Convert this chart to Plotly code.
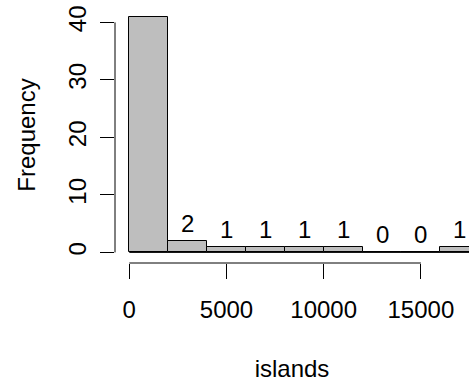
import plotly.graph_objects as go

breaks = [0, 2000, 4000, 6000, 8000, 10000, 12000, 14000, 16000, 18000]
counts = [41, 2, 1, 1, 1, 1, 0, 0, 1]
x_ticks = [0, 5000, 10000, 15000]
y_ticks = [0, 10, 20, 30, 40]
x_title = "islands"
y_title = "Frequency"

FONT = "Liberation Sans Narrow, Liberation Sans, Arial, sans-serif"
FS = 24

mids = [(a + b) / 2 for a, b in zip(breaks[:-1], breaks[1:])]
widths = [b - a for a, b in zip(breaks[:-1], breaks[1:])]

fig = go.Figure()
fig.add_trace(go.Bar(
    x=mids, y=counts, width=widths,
    marker=dict(color="#BEBEBE", line=dict(color="black", width=1)),
    hoverinfo="x+y",
))

# count labels above bars (the tallest one falls outside the figure in the original)
for m, c in zip(mids, counts):
    if c >= 41:
        continue
    fig.add_annotation(x=m, y=c, text=str(c), showarrow=False,
                       xref="x", yref="y", yanchor="bottom", yshift=2,
                       font=dict(family=FONT, size=FS, color="black"))

# baseline under the histogram
fig.add_shape(type="line", xref="x", yref="y", x0=breaks[0], x1=breaks[-1], y0=0, y1=0,
              line=dict(color="black", width=1))
# R-style axis lines spanning tick range
fig.add_shape(type="line", xref="x", yref="paper", x0=x_ticks[0], x1=x_ticks[-1], y0=0, y1=0,
              line=dict(color="black", width=1))
fig.add_shape(type="line", xref="paper", yref="y", x0=0, x1=0, y0=y_ticks[0], y1=y_ticks[-1],
              line=dict(color="black", width=1))

fig.update_layout(
    width=469, height=382,
    margin=dict(l=115, r=0, t=7, b=119),
    plot_bgcolor="white", paper_bgcolor="white",
    showlegend=False,
    bargap=0,
    font=dict(family=FONT, size=FS, color="black"),
    xaxis=dict(range=[-735, 17474], tickvals=x_ticks, ticktext=[str(v) for v in x_ticks],
               ticks="outside", ticklen=15, tickwidth=1, tickcolor="black",
               showline=False, showgrid=False, zeroline=False, automargin=False,
               ticklabelstandoff=10,
               title=dict(text=x_title, standoff=40, font=dict(family=FONT, size=FS))),
    yaxis=dict(range=[-1.84, 42.68], tickvals=y_ticks, ticktext=[str(v) for v in y_ticks],
               ticks="outside", ticklen=14, tickwidth=1, tickcolor="black",
               tickangle=-90,
               showline=False, showgrid=False, zeroline=False, automargin=False,
               ticklabelstandoff=4,
               title=dict(text=y_title, standoff=22, font=dict(family=FONT, size=FS))),
)

fig.write_html("out.html", config={"displayModeBar": False},
               post_script="document.body.style.margin='0px';")
